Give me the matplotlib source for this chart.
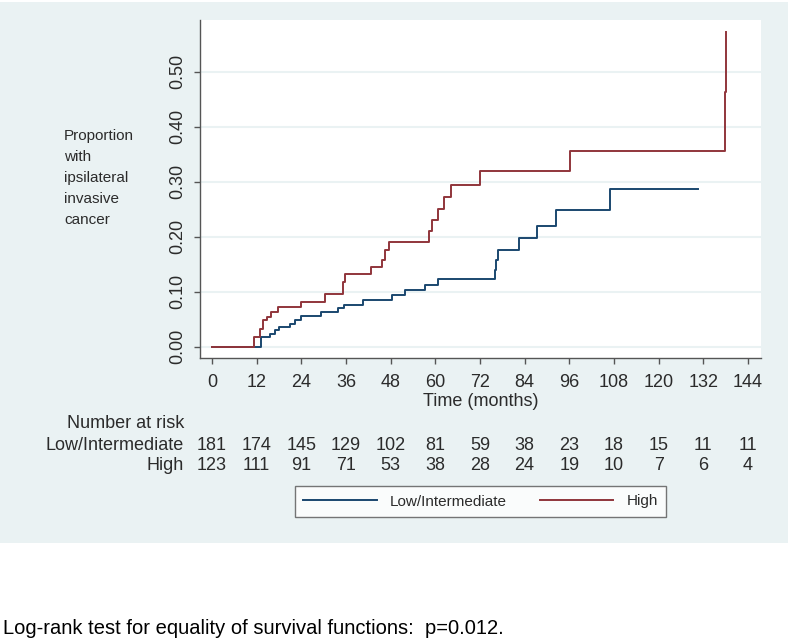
import numpy as np
import matplotlib
matplotlib.use('Agg')
import matplotlib.pyplot as plt
from matplotlib.patches import Rectangle

plt.rcParams['font.family'] = ['Liberation Sans', 'DejaVu Sans']

# Kaplan-Meier failure steps (months, cumulative proportion)
low_t = [0, 13.3, 15.6, 16.9, 18.1, 21.0, 22.3, 23.9, 29.3, 33.9, 35.5, 40.5,
         48.3, 51.9, 57.2, 60.8, 76.0, 76.3, 76.8, 82.6, 87.2, 92.4, 106.9]
low_v = [0, 0.017, 0.024, 0.030, 0.035, 0.041, 0.0485, 0.056, 0.064, 0.070, 0.076, 0.085,
         0.094, 0.103, 0.113, 0.124, 0.139, 0.158, 0.176, 0.197, 0.219, 0.2485, 0.287]
low_end = 130.7

high_t = [0, 11.4, 12.9, 13.8, 14.9, 16.0, 17.8, 23.9, 30.4, 35.1, 35.7, 42.7,
          45.6, 46.5, 47.5, 58.4, 59.0, 60.6, 62.3, 64.3, 72.1, 96.2, 137.8, 138.1]
high_v = [0, 0.017, 0.033, 0.0485, 0.0545, 0.064, 0.072, 0.082, 0.095, 0.118, 0.132, 0.145,
          0.158, 0.176, 0.191, 0.210, 0.230, 0.251, 0.273, 0.294, 0.319, 0.355, 0.464, 0.572]
high_end = 138.1

risk_times = [0, 12, 24, 36, 48, 60, 72, 84, 96, 108, 120, 132, 144]
risk_low = [181, 174, 145, 129, 102, 81, 59, 38, 23, 18, 15, 11, 11]
risk_high = [123, 111, 91, 71, 53, 38, 28, 24, 19, 10, 7, 6, 4]

navy = '#1a476f'
maroon = '#90353b'
bg = '#eaf2f3'
txt = '#2b2b2b'
W, H = 790, 640

fig = plt.figure(figsize=(7.9, 6.4), dpi=100)
fig.patches.append(Rectangle((0, 1 - 543 / H), 788 / W, 541 / H, transform=fig.transFigure,
                             facecolor=bg, edgecolor='none', zorder=-10))

ax = fig.add_axes([200 / W, 1 - 358 / H, 561 / W, 338 / H])
ax.set_facecolor('white')

ax.step(low_t + [low_end], low_v + [low_v[-1]], where='post', color=navy, lw=1.4,
        label='Low/Intermediate')
ax.step(high_t + [high_end], high_v + [high_v[-1]], where='post', color=maroon, lw=1.4,
        label='High')

ax.set_xlim(-3.2, 147.5)
ax.set_ylim(-0.0205, 0.594)
ax.set_xticks(risk_times)
ax.set_yticks(np.arange(0, 0.51, 0.1))
ax.set_yticklabels(['%.2f' % v for v in np.arange(0, 0.51, 0.1)], rotation=90, va='center')
ax.yaxis.grid(True, color=bg, lw=1.5)
ax.set_axisbelow(True)
for s in ['top', 'right']:
    ax.spines[s].set_visible(False)
for s in ['left', 'bottom']:
    ax.spines[s].set_color('#555555')
    ax.spines[s].set_linewidth(1.0)
ax.tick_params(direction='out', length=4, width=1, color='#555555',
               labelsize=13, labelcolor=txt)
ax.tick_params(axis='x', pad=7.5)
ax.tick_params(axis='y', pad=6)
ax.set_xlabel('Time (months)', fontsize=13, color=txt, labelpad=1.5)

# y title as a left block
fig.text(64 / W, 1 - 129 / H, 'Proportion\nwith\nipsilateral\ninvasive\ncancer',
         fontsize=11, color=txt, ha='left', va='top', linespacing=1.63)

# number at risk table
tr = ax.get_xaxis_transform()
fig.text(184 / W, 1 - 424 / H, 'Number at risk', fontsize=13, color=txt, ha='right', va='center')
fig.text(184 / W, 1 - 445 / H, 'Low/Intermediate', fontsize=13, color=txt, ha='right', va='center')
fig.text(184 / W, 1 - 465 / H, 'High', fontsize=13, color=txt, ha='right', va='center')
for t, a, b in zip(risk_times, risk_low, risk_high):
    ax.text(t, (358 - 445) / 338, str(a), transform=tr, fontsize=13, color=txt,
            ha='center', va='center', clip_on=False)
    ax.text(t, (358 - 465) / 338, str(b), transform=tr, fontsize=13, color=txt,
            ha='center', va='center', clip_on=False)

leg = fig.legend(loc='center', bbox_to_anchor=((292 + 669) / 2 / W, 1 - (485 + 518) / 2 / H),
                 ncol=2, fontsize=11, frameon=True, fancybox=False, edgecolor='#555555',
                 handlelength=4.8, handletextpad=0.85, columnspacing=2.2, borderpad=0.55)
leg.get_frame().set_linewidth(1.0)
for t in leg.get_texts():
    t.set_color(txt)

fig.text(3 / W, 1 - 628 / H, 'Log-rank test for equality of survival functions:  p=0.012.',
         fontsize=14.5, color='black', ha='left', va='center')

fig.savefig('out.png', dpi=100, facecolor='white')
